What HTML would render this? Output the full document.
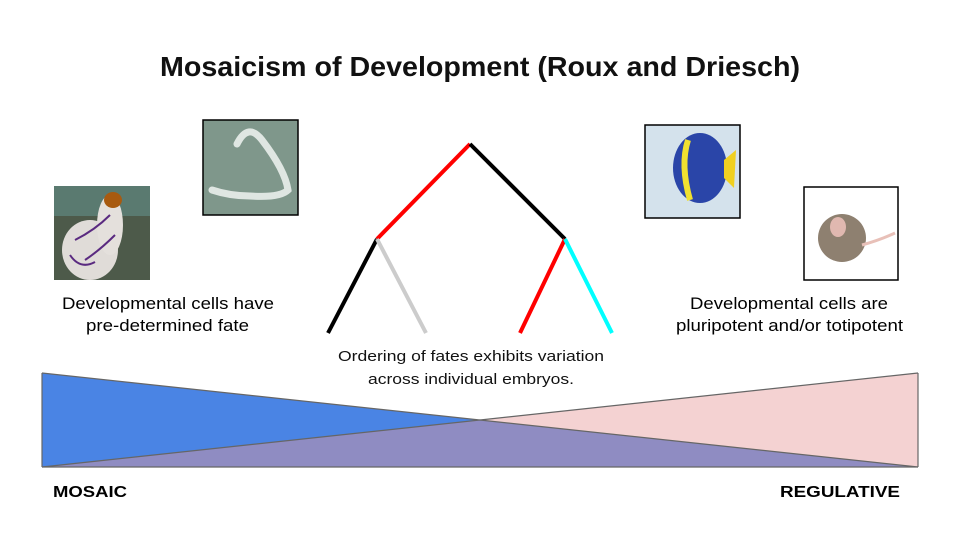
<!DOCTYPE html>
<html><head><meta charset="utf-8"><style>
body{margin:0;background:#fff;}
svg{display:block;}
.t{font-family:"Liberation Sans",sans-serif;}
</style></head><body>
<svg width="960" height="540" viewBox="0 0 960 540" xmlns="http://www.w3.org/2000/svg">
<text x="160" y="76" textLength="640" lengthAdjust="spacingAndGlyphs" class="t" font-size="28" font-weight="bold" fill="#111">Mosaicism of Development (Roux and Driesch)</text>

<!-- sea squirt -->
<rect x="54" y="186" width="96" height="94" fill="#4d5a4a"/>
<rect x="54" y="186" width="96" height="30" fill="#5a7a70"/>
<ellipse cx="90" cy="250" rx="28" ry="30" fill="#e0dcd8"/>
<ellipse cx="110" cy="225" rx="13" ry="30" fill="#e4e0dc"/>
<ellipse cx="113" cy="200" rx="9" ry="8" fill="#a85a10"/>
<path d="M75 240 Q95 230 110 215 M85 260 Q100 250 115 235 M70 255 Q80 270 95 262" stroke="#5a2a80" stroke-width="2" fill="none"/>

<!-- worm -->
<rect x="203" y="120" width="95" height="95" fill="#7f978b" stroke="#000" stroke-width="1.5"/>
<path d="M237 144 Q248 122 262 140 Q285 170 288 190 Q280 198 250 196 Q230 196 212 190" stroke="#dfe6e2" stroke-width="7" fill="none" stroke-linecap="round"/>

<!-- fish -->
<rect x="645" y="125" width="95" height="93" fill="#d4e2ec" stroke="#000" stroke-width="1.5"/>
<ellipse cx="700" cy="168" rx="27" ry="35" fill="#2a45a8"/>
<path d="M688 140 Q680 165 690 200" stroke="#f0e030" stroke-width="6" fill="none"/>
<path d="M724 160 L736 150 L734 188 L724 178Z" fill="#f0d020"/>

<!-- mouse -->
<rect x="804" y="187" width="94" height="93" fill="#fff" stroke="#000" stroke-width="1.5"/>
<ellipse cx="842" cy="238" rx="24" ry="24" fill="#8e8070"/>
<ellipse cx="838" cy="227" rx="8" ry="10" fill="#e0b8b0"/>
<path d="M862 245 Q880 240 895 233" stroke="#e8c0b8" stroke-width="3" fill="none"/>

<text x="62" y="309" textLength="212" lengthAdjust="spacingAndGlyphs" class="t" font-size="17" fill="#000">Developmental cells have</text>
<text x="86" y="331" textLength="163" lengthAdjust="spacingAndGlyphs" class="t" font-size="17" fill="#000">pre-determined fate</text>
<text x="690" y="309" textLength="198" lengthAdjust="spacingAndGlyphs" class="t" font-size="17" fill="#000">Developmental cells are</text>
<text x="676" y="331" textLength="227" lengthAdjust="spacingAndGlyphs" class="t" font-size="17" fill="#000">pluripotent and/or totipotent</text>

<!-- tree -->
<g stroke-width="4" stroke-linecap="butt">
<line x1="470" y1="144" x2="377" y2="239" stroke="#f00"/>
<line x1="470" y1="144" x2="565" y2="239" stroke="#000"/>
<line x1="377" y1="239" x2="328" y2="333" stroke="#000"/>
<line x1="377" y1="239" x2="426" y2="333" stroke="#ccc"/>
<line x1="565" y1="239" x2="520" y2="333" stroke="#f00"/>
<line x1="565" y1="239" x2="612" y2="333" stroke="#0ff"/>
</g>
<text x="338" y="361" textLength="266" lengthAdjust="spacingAndGlyphs" class="t" font-size="15" fill="#111">Ordering of fates exhibits variation</text>
<text x="368" y="384" textLength="206" lengthAdjust="spacingAndGlyphs" class="t" font-size="15" fill="#111">across individual embryos.</text>

<!-- triangles -->
<polygon points="42,373 42,467 918,467" fill="#4a84e4"/>
<polygon points="918,373 918,467 42,467" fill="#f4d2d2"/>
<polygon points="42,467 918,467 481,420" fill="#8f8cc2"/>
<g stroke="#666" stroke-width="1.2" fill="none">
<line x1="42" y1="373" x2="918" y2="467"/>
<line x1="918" y1="373" x2="42" y2="467"/>
<line x1="42" y1="373" x2="42" y2="467"/>
<line x1="918" y1="373" x2="918" y2="467"/>
<line x1="42" y1="467" x2="918" y2="467"/>
</g>
<text x="53" y="497" textLength="74" lengthAdjust="spacingAndGlyphs" class="t" font-size="16" font-weight="bold" fill="#000">MOSAIC</text>
<text x="780" y="497" textLength="120" lengthAdjust="spacingAndGlyphs" class="t" font-size="16" font-weight="bold" fill="#000">REGULATIVE</text>
</svg>
</body></html>
